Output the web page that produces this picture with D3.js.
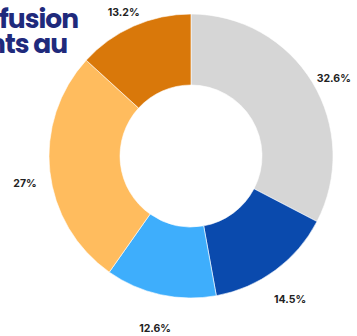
<!DOCTYPE html>
<html>
<head>
<meta charset="utf-8">
<script src="https://cdn.jsdelivr.net/npm/d3@7"></script>
<style>
  html, body { margin: 0; padding: 0; background: #ffffff; }
  svg { display: block; }
</style>
</head>
<body>
<svg id="chart" width="357" height="336"></svg>
<script>
// Share of each group, clockwise from 12 o'clock
const categories = ["A", "B", "C", "D", "E"];
const values = [32.6, 14.5, 12.6, 27, 13.2];
const labels = ["32.6%", "14.5%", "12.6%", "27%", "13.2%"];
const colors = ["#d6d6d6", "#0a4aad", "#3eaefc", "#ffbc5e", "#d9780a"];
const titleLines = ["Répartition après la fusion", "des effectifs étudiants au"];

const svg = d3.select("#chart");
const cx = 191, cy = 156;
const outerR = 142, innerR = 71;

// Title, clipped on the left by the page edge
svg.append("g")
  .selectAll("text")
  .data(titleLines)
  .join("text")
  .attr("x", (d, i) => i === 0 ? 78 : 67)
  .attr("y", (d, i) => 28 + i * 25)
  .attr("text-anchor", "end")
  .attr("font-family", "Poppins, 'Open Sans', sans-serif")
  .attr("font-weight", 700)
  .attr("font-size", 26.5)
  .attr("letter-spacing", -1)
  .attr("fill", "#1f2a7c")
  .text(d => d);

const pie = d3.pie().sort(null).value(d => d.value);
const arcs = pie(categories.map((c, i) => ({ cat: c, value: values[i], label: labels[i], color: colors[i] })));

const arc = d3.arc().innerRadius(innerR).outerRadius(outerR);

const g = svg.append("g").attr("transform", `translate(${cx},${cy})`);
g.selectAll("path")
  .data(arcs)
  .join("path")
  .attr("d", arc)
  .attr("fill", d => d.data.color)
  .attr("stroke", "#ffffff")
  .attr("stroke-width", 0.6);

// Value labels on a ring outside the donut
const labelArc = d3.arc().innerRadius(167).outerRadius(167);
g.selectAll("text.val")
  .data(arcs)
  .join("text")
  .attr("class", "val")
  .attr("transform", d => {
    const [x, y] = labelArc.centroid(d);
    return `translate(${x},${y + 9})`;
  })
  .attr("text-anchor", "middle")
  .attr("dominant-baseline", "central")
  .attr("font-family", "Inter, 'Open Sans', sans-serif")
  .attr("font-weight", 700)
  .attr("font-size", 10.5)
  .attr("fill", "#222222")
  .text(d => d.data.label);
</script>
</body>
</html>
